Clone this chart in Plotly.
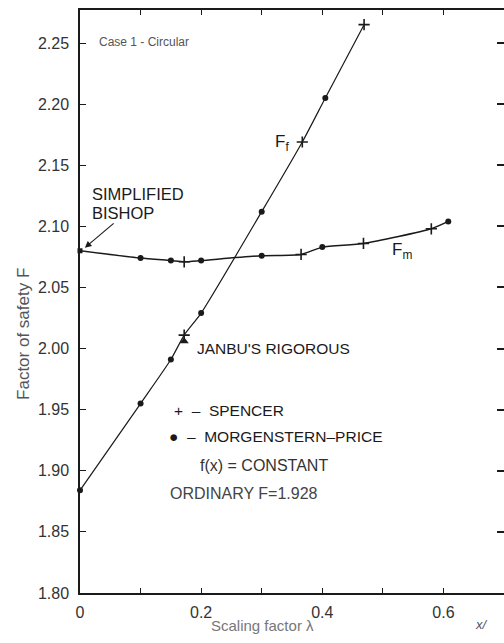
import plotly.graph_objects as go

# Scaling factor lambda and factor of safety values
# Force equilibrium curve F_f
mp_ff_lam = [0.0, 0.10, 0.15, 0.20, 0.30, 0.405]
mp_ff_val = [1.884, 1.955, 1.991, 2.029, 2.112, 2.205]
sp_ff_lam = [0.172, 0.367, 0.469]
sp_ff_val = [2.011, 2.169, 2.265]

# Moment equilibrium curve F_m
mp_fm_lam = [0.10, 0.15, 0.20, 0.30, 0.40, 0.608]
mp_fm_val = [2.074, 2.072, 2.072, 2.076, 2.083, 2.104]
sp_fm_lam = [0.172, 0.365, 0.468, 0.58]
sp_fm_val = [2.071, 2.077, 2.086, 2.098]

# Simplified Bishop (lambda = 0) and Janbu's rigorous
bishop_lam, bishop_val = [0.0], [2.080]
janbu_lam, janbu_val = [0.172], [2.006]

x_ticks = [0.0, 0.2, 0.4, 0.6]
x_ticktext = ["0", "0.2", "0.4", "0.6"]
y_ticks = [1.80, 1.85, 1.90, 1.95, 2.00, 2.05, 2.10, 2.15, 2.20, 2.25]
y_ticktext = ["1.80", "1.85", "1.90", "1.95", "2.00", "2.05", "2.10", "2.15", "2.20", "2.25"]

X_RANGE = [0, 0.7]
Y_RANGE = [1.80, 2.277]

FONT = "Liberation Sans, Arial, sans-serif"
INK = "#1a1a1a"

ff = sorted(zip(mp_ff_lam + sp_ff_lam, mp_ff_val + sp_ff_val))
fm = sorted(zip(bishop_lam + mp_fm_lam + sp_fm_lam, bishop_val + mp_fm_val + sp_fm_val))

fig = go.Figure()

fig.add_trace(go.Scatter(
    x=[p[0] for p in ff], y=[p[1] for p in ff], mode="lines",
    line=dict(color=INK, width=1.2, shape="spline", smoothing=0.6),
    hoverinfo="skip", showlegend=False))
fig.add_trace(go.Scatter(
    x=[p[0] for p in fm], y=[p[1] for p in fm], mode="lines",
    line=dict(color=INK, width=1.5, shape="spline", smoothing=0.6),
    hoverinfo="skip", showlegend=False))

# Morgenstern-Price points
fig.add_trace(go.Scatter(
    x=mp_ff_lam + mp_fm_lam, y=mp_ff_val + mp_fm_val, mode="markers",
    marker=dict(symbol="circle", size=6, color=INK), showlegend=False,
    cliponaxis=False))
# Spencer points
fig.add_trace(go.Scatter(
    x=sp_ff_lam + sp_fm_lam, y=sp_ff_val + sp_fm_val, mode="markers",
    marker=dict(symbol="cross-thin", size=8, line=dict(color=INK, width=1.6)),
    showlegend=False))
# Simplified Bishop
fig.add_trace(go.Scatter(
    x=bishop_lam, y=bishop_val, mode="markers",
    marker=dict(symbol="square", size=5, color=INK), showlegend=False,
    cliponaxis=False))
# Janbu's rigorous
fig.add_trace(go.Scatter(
    x=janbu_lam, y=janbu_val, mode="markers",
    marker=dict(symbol="triangle-up", size=8, color=INK), showlegend=False))

# invisible trace carrying the right-hand tick axis
fig.add_trace(go.Scatter(x=[0], y=[2.0], yaxis="y2", mode="markers",
                         marker=dict(opacity=0), hoverinfo="skip", showlegend=False))


def note(text, x, y, size=15, color=INK, xanchor="left", **kw):
    fig.add_annotation(text=text, x=x, y=y, xref="x", yref="y", showarrow=False,
                       xanchor=xanchor, yanchor="middle",
                       font=dict(family=FONT, size=size, color=color), **kw)


note("Case 1 - Circular", 0.028, 2.2507, size=12, color="#555")
note("SIMPLIFIED", 0.0165, 2.1264, size=16.5)
note("BISHOP", 0.0165, 2.1112, size=16.5)
note("F<sub>f</sub>", 0.318, 2.168, size=17)
note("F<sub>m</sub>", 0.511, 2.080, size=17)
note("JANBU'S RIGOROUS", 0.190, 2.0004, size=15.5)
note("+  \u2013  SPENCER", 0.152, 1.9497, size=15.5)
note("\u25cf  \u2013  MORGENSTERN\u2013PRICE", 0.143, 1.928, size=15.5)
note("f(x) = CONSTANT", 0.195, 1.9047, size=16, color="#333")
note("ORDINARY F=1.928", 0.1455, 1.8818, size=16, color="#444")

# arrow to the Simplified Bishop value
fig.add_annotation(x=0.008, y=2.0825, ax=0.058, ay=2.1035, xref="x", yref="y",
                   axref="x", ayref="y", showarrow=True, arrowhead=2,
                   arrowsize=1.2, arrowwidth=1.1, arrowcolor=INK, text="")

# axis titles
fig.add_annotation(text="Factor of safety F", x=-0.162, y=0.444, xref="paper",
                   yref="paper", showarrow=False, textangle=-90,
                   font=dict(family=FONT, size=17, color="#555"))
fig.add_annotation(text="Scaling factor \u03bb", x=0.43, y=-0.074, xref="paper",
                   yref="paper", showarrow=False,
                   font=dict(family=FONT, size=15, color="#777"))
fig.add_annotation(text="<i>x/</i>", x=0.968, y=-0.07, xref="paper",
                   yref="paper", showarrow=False,
                   font=dict(family=FONT, size=13, color="#555"))

fig.update_layout(
    width=504, height=643,
    margin=dict(l=80, r=0, t=10, b=50),
    plot_bgcolor="white", paper_bgcolor="white",
    font=dict(family=FONT, size=15, color="#333"),
    xaxis=dict(range=X_RANGE, tickvals=x_ticks, ticktext=x_ticktext,
               ticks="inside", ticklen=5, tickcolor=INK, tickwidth=1,
               minor=dict(dtick=0.1, tick0=0, ticks="inside", ticklen=5,
                          tickcolor=INK, tickwidth=1, showgrid=False),
               showline=True, linecolor=INK, linewidth=2, mirror="ticks",
               showgrid=False, zeroline=False, ticklabelstandoff=4,
               tickfont=dict(size=16, color="#333")),
    yaxis=dict(range=Y_RANGE, tickvals=y_ticks, ticktext=y_ticktext,
               ticks="inside", ticklen=6, tickcolor=INK, tickwidth=1,
               showline=True, linecolor=INK, linewidth=1.5,
               showgrid=False, zeroline=False, ticklabelstandoff=6,
               tickfont=dict(size=16, color="#333")),
    yaxis2=dict(range=Y_RANGE, tickvals=y_ticks, overlaying="y", side="right",
                ticks="inside", ticklen=7, tickcolor=INK, tickwidth=1.5,
                showline=False, showticklabels=False, showgrid=False,
                zeroline=False),
)

fig.write_html("out.html")
